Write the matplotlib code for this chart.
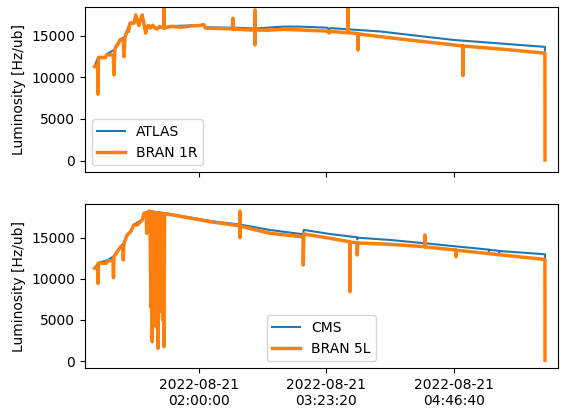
import matplotlib
matplotlib.use('Agg')
import matplotlib.pyplot as plt
import pandas as pd
from datetime import datetime, timezone, timedelta
from matplotlib.ticker import FuncFormatter, MultipleLocator

# local time of the fill (CEST)
CEST = timezone(timedelta(hours=2))
DAY = '2022-08-21'

# ---- top panel: ATLAS vs BRAN 1R ----
bran1r_t = ['00:51:28', '00:52:40', '00:53:30', '00:53:38', '00:53:58', '00:58:40',
            '00:59:11', '01:03:40', '01:04:07', '01:04:40', '01:05:25', '01:06:50',
            '01:08:03', '01:10:10', '01:10:40', '01:11:20', '01:12:38', '01:13:40',
            '01:14:36', '01:17:13', '01:18:20', '01:19:20', '01:20:30', '01:21:30',
            '01:22:39', '01:23:40', '01:24:53', '01:25:40', '01:26:23', '01:28:00',
            '01:29:30', '01:31:00', '01:32:29', '01:34:00', '01:36:50', '01:36:52',
            '01:36:54', '01:42:00', '01:48:00', '01:54:00', '02:00:00', '02:03:05',
            '02:04:00', '02:12:00', '02:22:03', '02:22:05', '02:22:07', '02:30:00',
            '02:36:28', '02:36:30', '02:36:31', '02:36:33', '02:45:00', '02:55:00',
            '03:05:58', '03:15:00', '03:24:00', '03:25:00', '03:26:00', '03:37:23',
            '03:37:25', '03:37:27', '03:43:56', '03:43:58', '03:44:00', '03:58:23',
            '04:20:00', '04:46:41', '04:52:44', '04:52:46', '04:52:48', '05:20:00',
            '05:46:29', '05:46:31']
bran1r_v = [11280, 11500, 11600, 7970, 12360, 12360,
            12680, 12700, 10280, 13300, 13680, 14000,
            14480, 14500, 12480, 14800, 15480, 15500,
            16490, 16490, 17480, 16800, 16200, 17000,
            17480, 16500, 15290, 16000, 16200, 15900,
            16250, 15900, 15800, 16100, 15900, 19500,
            15900, 16100, 16000, 16150, 16200, 16300,
            15900, 15850, 15800, 17090, 15800, 15700,
            15680, 18080, 13880, 15680, 15650, 15750,
            15680, 15600, 15550, 15300, 15500, 15350,
            19500, 15350, 15250, 13280, 15200, 14880,
            14420, 13880, 13750, 10200, 13750, 13350,
            12890, 80]

atlas_t = ['00:51:28', '00:53:58', '00:58:40', '00:59:11', '01:04:40', '01:05:25',
           '01:08:03', '01:11:20', '01:12:38', '01:14:36', '01:17:13', '01:18:20',
           '01:20:30', '01:22:39', '01:24:53', '01:26:23', '01:32:29', '01:42:00',
           '02:00:00', '02:03:05', '02:04:00', '02:22:00', '02:36:30', '02:55:00',
           '03:05:58', '03:24:00', '03:25:00', '03:26:00', '03:58:23', '04:46:41',
           '05:46:29', '05:46:30']
atlas_v = [11400, 12450, 12450, 12750, 13350, 13750,
           14550, 14850, 15550, 16550, 16550, 17450,
           16300, 17450, 15400, 16250, 15900, 16150,
           16250, 16350, 16000, 15950, 15850, 16080,
           16080, 15950, 15750, 15900, 15500, 14480,
           13650, 13200]

# ---- bottom panel: CMS vs BRAN 5L ----
bran5l_t = ['00:51:28', '00:52:40', '00:53:30', '00:53:38', '00:53:58', '00:59:11',
            '00:59:40', '01:03:30', '01:03:47', '01:04:07', '01:06:16', '01:08:30',
            '01:09:50', '01:10:13', '01:10:40', '01:12:50', '01:15:03', '01:17:13',
            '01:19:23', '01:22:39', '01:23:46', '01:25:20', '01:25:33', '01:25:50',
            '01:27:03', '01:27:40', '01:28:20', '01:28:40', '01:29:11', '01:29:30',
            '01:30:00', '01:30:20', '01:30:50', '01:31:10', '01:31:40', '01:32:00',
            '01:32:57', '01:33:20', '01:34:00', '01:34:20', '01:35:00', '01:35:20',
            '01:36:00', '01:36:20', '01:36:52', '01:37:15', '01:38:30', '02:08:31',
            '02:26:38', '02:26:40', '02:26:41', '02:26:43', '02:46:19', '03:08:05',
            '03:08:08', '03:08:30', '03:25:38', '03:38:42', '03:38:44', '03:38:46',
            '03:43:20', '03:43:31', '03:43:50', '04:04:56', '04:27:50', '04:27:52',
            '04:27:54', '04:48:09', '04:48:11', '04:48:13', '05:46:29', '05:46:31']
bran5l_v = [11280, 11500, 11500, 9450, 11890, 11890,
            12200, 12200, 10140, 12700, 13300, 13900,
            13900, 12290, 14320, 15330, 15740, 16550,
            16550, 17160, 17970, 17970, 15540, 18000,
            18250, 18100, 6500, 18100, 2350, 18100,
            5800, 18100, 6300, 18050, 4170, 18050,
            1550, 18000, 6600, 18000, 6000, 17950,
            5000, 17950, 1740, 17900, 17900, 16900,
            16450, 18250, 15000, 16400, 15540, 15100,
            11680, 15450, 14930, 14500, 8430, 14450,
            14400, 12900, 14350, 14200, 13900, 15330,
            13880, 13500, 12690, 13480, 12350, 100]

cms_t = ['00:51:28', '00:53:58', '00:59:40', '01:04:07', '01:06:16', '01:08:30',
         '01:10:40', '01:12:50', '01:15:03', '01:17:13', '01:22:39', '01:23:46',
         '01:27:03', '01:38:30', '02:08:31', '02:26:40', '02:46:19', '03:08:00',
         '03:08:30', '03:25:38', '03:43:20', '03:43:31', '03:43:50', '04:04:56',
         '04:27:52', '05:09:40', '05:09:48', '05:09:56', '05:16:25', '05:16:33',
         '05:16:41', '05:46:29', '05:46:30']
cms_v = [11350, 11950, 12250, 12750, 13350, 13950,
         14370, 15380, 15790, 16600, 17200, 18000,
         18250, 17950, 17000, 16600, 15940, 15420,
         15950, 15450, 15050, 14800, 15000, 14730,
         14320, 13550, 13350, 13530, 13400, 13200,
         13380, 12990, 12500]

x_range = ['00:44:55', '05:55:00']


def to_unix(times):
    ts = pd.to_datetime([DAY + ' ' + t for t in times]).tz_localize(CEST)
    return ((ts - pd.Timestamp('1970-01-01', tz='UTC')) // pd.Timedelta('1s')).to_numpy()


def fmt_time(t, pos):
    return datetime.fromtimestamp(t, tz=CEST).strftime('%Y-%m-%d\n%H:%M:%S')


fig = plt.figure(figsize=(5.63, 4.08), dpi=100)
ax1 = fig.add_axes([0.1504, 0.5784, 0.8406, 0.4044])
ax2 = fig.add_axes([0.1504, 0.098, 0.8406, 0.402], sharex=ax1)

ax1.plot(to_unix(atlas_t), atlas_v, label='ATLAS', lw=1.5)
ax1.plot(to_unix(bran1r_t), bran1r_v, label='BRAN 1R', lw=2.5)
ax1.set_ylabel('Luminosity [Hz/ub]')
ax1.set_ylim(-1360, 18430)
ax1.legend(loc='lower left')
ax1.tick_params(labelbottom=False)

ax2.plot(to_unix(cms_t), cms_v, label='CMS', lw=1.5)
ax2.plot(to_unix(bran5l_t), bran5l_v, label='BRAN 5L', lw=2.5)
ax2.set_ylabel('Luminosity [Hz/ub]')
ax2.set_ylim(-850, 19100)
ax2.legend(loc='lower center')

ax2.set_xlim(*to_unix(x_range))
ax2.xaxis.set_major_locator(MultipleLocator(5000))
ax2.xaxis.set_major_formatter(FuncFormatter(fmt_time))

fig.savefig('out.png', dpi=100)
